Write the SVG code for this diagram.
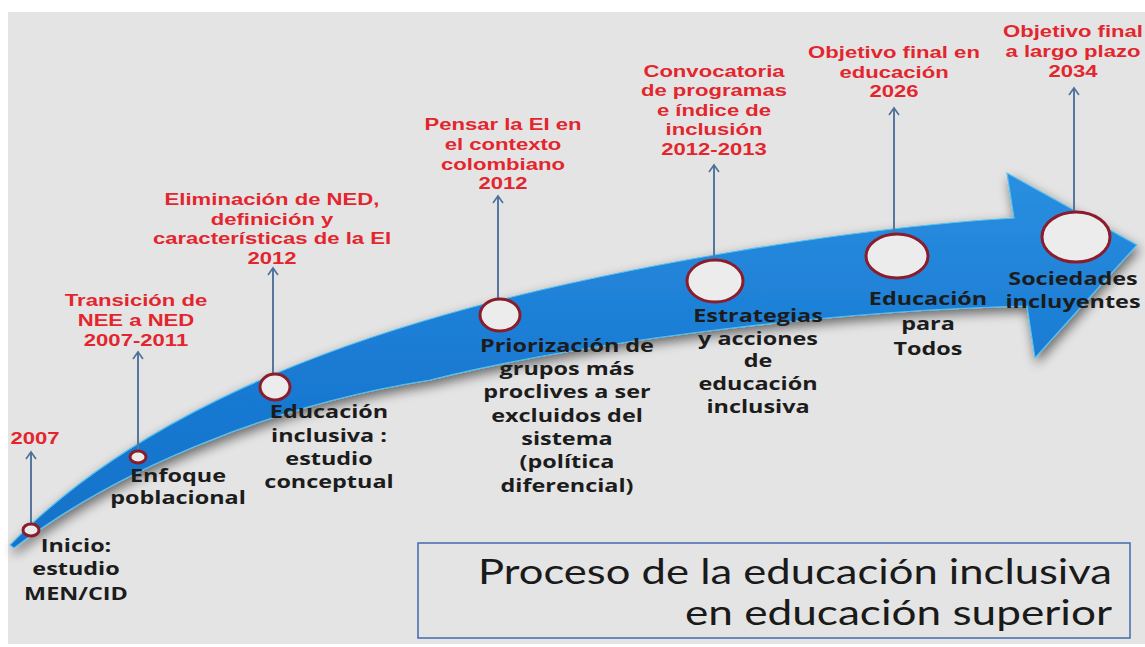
<svg xmlns="http://www.w3.org/2000/svg" width="1145" height="647" viewBox="0 0 1145 647">
<defs>
<filter id="sh" x="-10%" y="-20%" width="120%" height="140%">
<feGaussianBlur in="SourceAlpha" stdDeviation="6"/>
<feOffset dx="2" dy="5" result="b"/>
<feComponentTransfer><feFuncA type="linear" slope="0.55"/></feComponentTransfer>
<feMerge><feMergeNode/><feMergeNode in="SourceGraphic"/></feMerge>
</filter>
<linearGradient id="ag" x1="0" y1="0" x2="0" y2="1">
<stop offset="0" stop-color="#2a8fe0"/>
<stop offset="0.5" stop-color="#1a7bd4"/>
<stop offset="1" stop-color="#1672c8"/>
</linearGradient>
<marker id="ah" viewBox="-9 -7 11 14" refX="0" refY="0" markerWidth="11" markerHeight="14" markerUnits="userSpaceOnUse" orient="auto">
<path d="M-7,-5 L0,0 L-7,5" fill="none" stroke="#4f6f99" stroke-width="1.6"/>
</marker>
<style>
.red{font-family:"Liberation Sans",Arial,sans-serif;font-weight:bold;font-size:17px;fill:#e3262e;text-anchor:middle}
.blk{font-family:"Open Sans","DejaVu Sans",sans-serif;font-weight:bold;font-size:18px;fill:#1c1c1c;text-anchor:middle}
.ttl{font-family:Lato,"Open Sans",sans-serif;font-size:34px;fill:#1a1a1a}
.dot{fill:#ececec;stroke:#8b1c2c;stroke-width:3}
.ln{stroke:#55779f;stroke-width:2;fill:none;marker-end:url(#ah)}
</style>
</defs>
<rect x="0" y="0" width="1145" height="647" fill="#ffffff"/>
<rect x="8" y="12" width="1137" height="632" fill="#e4e4e4"/>

<g id="arrow">
<path filter="url(#sh)" fill="url(#ag)" stroke="#56c2f0" stroke-width="1.2" d="M10,545 C90,462 220,382 420,322 C600,268 850,228 1014,218 L1007,173 L1137,245 L1035,358 L1027,306 C850,310 600,338 430,380 C260,407 110,475 14,548 Z"/>
</g>

<g id="connectors">
<line class="ln" x1="31" y1="524" x2="31" y2="452"/>
<line class="ln" x1="138" y1="451" x2="138" y2="352"/>
<line class="ln" x1="273" y1="374" x2="273" y2="268"/>
<line class="ln" x1="498" y1="298" x2="498" y2="196"/>
<line class="ln" x1="714" y1="258" x2="714" y2="165"/>
<line class="ln" x1="894" y1="233" x2="894" y2="108"/>
<line class="ln" x1="1074" y1="212" x2="1074" y2="88"/>
</g>

<g id="n1">
<ellipse class="dot" cx="31" cy="530" rx="8" ry="6"/>
<g transform="translate(35,0) scale(1.3,1)"><text class="red" x="0" y="444">2007</text></g>
<g transform="translate(76,0) scale(1.3,1)"><text class="blk" x="0" y="552">Inicio:</text><text class="blk" x="0" y="575">estudio</text><text class="blk" x="0" y="600">MEN/CID</text></g>
</g>

<g id="n2">
<ellipse class="dot" cx="138" cy="457" rx="8" ry="6"/>
<g transform="translate(136,0) scale(1.3,1)"><text class="red" x="0" y="306">Transición de</text><text class="red" x="0" y="326">NEE a NED</text><text class="red" x="0" y="346">2007-2011</text></g>
<g transform="translate(178,0) scale(1.3,1)"><text class="blk" x="0" y="482">Enfoque</text><text class="blk" x="0" y="504">poblacional</text></g>
</g>

<g id="n3">
<ellipse class="dot" cx="275" cy="387" rx="15" ry="13"/>
<g transform="translate(272,0) scale(1.3,1)"><text class="red" x="0" y="205">Eliminación de NED,</text><text class="red" x="0" y="225">definición y</text><text class="red" x="0" y="244">características de la EI</text><text class="red" x="0" y="264">2012</text></g>
<g transform="translate(329,0) scale(1.3,1)"><text class="blk" x="0" y="418">Educación</text><text class="blk" x="0" y="442">inclusiva :</text><text class="blk" x="0" y="465">estudio</text><text class="blk" x="0" y="488">conceptual</text></g>
</g>

<g id="n4">
<ellipse class="dot" cx="500" cy="315" rx="20" ry="16"/>
<g transform="translate(503,0) scale(1.3,1)"><text class="red" x="0" y="130">Pensar la EI en</text><text class="red" x="0" y="150">el contexto</text><text class="red" x="0" y="170">colombiano</text><text class="red" x="0" y="189">2012</text></g>
<g transform="translate(567,0) scale(1.3,1)"><text class="blk" x="0" y="352">Priorización de</text><text class="blk" x="0" y="375">grupos más</text><text class="blk" x="0" y="398">proclives a ser</text><text class="blk" x="0" y="422">excluidos del</text><text class="blk" x="0" y="445">sistema</text><text class="blk" x="0" y="468">(política</text><text class="blk" x="0" y="492">diferencial)</text></g>
</g>

<g id="n5">
<ellipse class="dot" cx="715" cy="281" rx="28" ry="21"/>
<g transform="translate(714,0) scale(1.3,1)"><text class="red" x="0" y="77">Convocatoria</text><text class="red" x="0" y="96">de programas</text><text class="red" x="0" y="116">e índice de</text><text class="red" x="0" y="135">inclusión</text><text class="red" x="0" y="155">2012-2013</text></g>
<g transform="translate(758,0) scale(1.3,1)"><text class="blk" x="0" y="322">Estrategias</text><text class="blk" x="0" y="345">y acciones</text><text class="blk" x="0" y="367">de</text><text class="blk" x="0" y="390">educación</text><text class="blk" x="0" y="413">inclusiva</text></g>
</g>

<g id="n6">
<ellipse class="dot" cx="897" cy="256" rx="31" ry="22"/>
<g transform="translate(894,0) scale(1.3,1)"><text class="red" x="0" y="58">Objetivo final en</text><text class="red" x="0" y="78">educación</text><text class="red" x="0" y="97">2026</text></g>
<g transform="translate(928,0) scale(1.3,1)"><text class="blk" x="0" y="305">Educación</text><text class="blk" x="0" y="330">para</text><text class="blk" x="0" y="355">Todos</text></g>
</g>

<g id="n7">
<ellipse class="dot" cx="1076" cy="237" rx="34" ry="25"/>
<g transform="translate(1073,0) scale(1.3,1)"><text class="red" x="0" y="37">Objetivo final</text><text class="red" x="0" y="57">a largo plazo</text><text class="red" x="0" y="77">2034</text></g>
<g transform="translate(1073,0) scale(1.3,1)"><text class="blk" x="0" y="285">Sociedades</text><text class="blk" x="0" y="308">incluyentes</text></g>
</g>

<g id="title">
<rect x="418" y="543" width="712" height="95" fill="none" stroke="#4a72b0" stroke-width="1.6"/>
<text class="ttl" x="478" y="584" textLength="634" lengthAdjust="spacingAndGlyphs">Proceso de la educación inclusiva</text>
<text class="ttl" x="685" y="625" textLength="427" lengthAdjust="spacingAndGlyphs">en educación superior</text>
</g>
</svg>
